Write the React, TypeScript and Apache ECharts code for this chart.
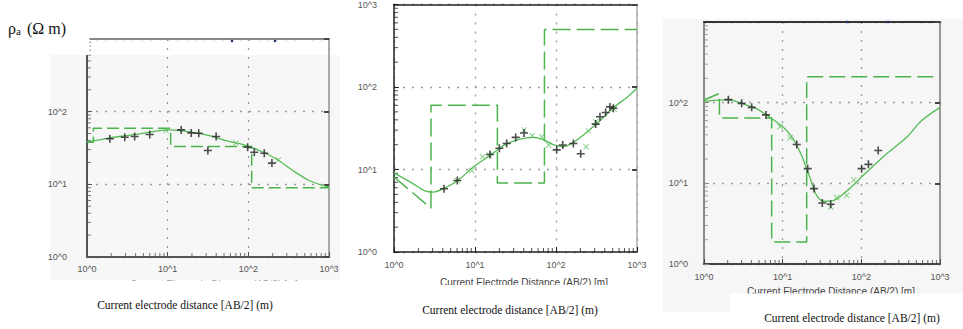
import React, { useEffect, useRef } from "react";
import * as echarts from "echarts";

// ---------- data ----------
const tickLabels = ["10^0", "10^1", "10^2", "10^3"];
const minorVals = [2, 3, 4, 5, 6, 7, 8, 9, 20, 30, 40, 50, 60, 70, 80, 90, 200, 300, 400, 500, 600, 700, 800, 900];

const p1Curve = [[1, 38], [1.92, 43.6], [3.09, 46.9], [4.95, 50.4], [7.96, 55], [10.6, 56.1], [20.5, 52], [33, 46.9], [53, 40], [93.7, 34.2], [137, 29.2], [220, 22.5], [352, 15.6], [566, 11.3], [910, 9.4], [1000, 9.3]];
const p1Model = [[1, 38], [1.2, 38], [1.2, 59], [10.9, 59], [10.9, 33.2], [110, 33.2], [110, 9], [1000, 9]];
const p1Plus = [[1.92, 42.3], [2.94, 44.5], [3.9, 45.5], [6.0, 48.4], [14.7, 56.1], [19.6, 51], [24.3, 50.5], [31.5, 29.2], [39.9, 45.5], [98, 32.4], [118.6, 27.7], [157.7, 26.8], [196, 19.6]];
const p1Cross = [[9.5, 55], [70, 37], [236, 21.8]];

const p2Curve = [[1, 9.1], [1.73, 6.7], [2.41, 5.5], [3.06, 5.33], [4.06, 5.85], [6.2, 7.4], [9.5, 10.7], [15.3, 14.8], [23.5, 20], [36, 23.4], [52.5, 24.5], [69.7, 23], [92.6, 20], [123, 18.9], [164, 21.3], [239, 28.2], [349, 38.9], [510, 56.3], [746, 74.3], [1000, 96.4]];
const p2Model = [[1, 8.1], [2.86, 3.4], [2.86, 60], [18.9, 60], [18.9, 6.85], [72, 6.85], [72, 496], [1000, 496]];
const p2Plus = [[4.14, 5.85], [6.05, 7.37], [15.3, 15.2], [20, 18.1], [24.6, 20.7], [31.8, 24.5], [40.3, 27.7], [102, 17.3], [121, 19.8], [164, 20.7], [202, 15.5], [309, 35.5], [349, 43.5], [410, 49], [464, 57.4], [510, 55.3]];
const p2Cross = [[6.05, 7.4], [9.1, 9.7], [12.4, 14.3], [15, 15], [40.6, 30.1], [51, 25.7], [66.6, 25], [81, 19.8], [235, 18.9], [251, 29.5], [309, 38], [520, 54]];

const p3Curve = [[1, 104], [2.04, 109], [3.16, 96.4], [4.67, 83.6], [6.9, 65.9], [10.2, 49.5], [13.6, 35.6], [17.4, 22.2], [20.2, 15.2], [24.5, 9.0], [27, 7.1], [33, 6.0], [44, 6.1], [53.5, 6.8], [79, 9.45], [106, 12.6], [210, 23.3], [377, 37.3], [585, 60], [1000, 87.5]];
const p3Model = [[1, 108], [1.57, 130], [1.57, 64.7], [7.25, 64.7], [7.25, 1.88], [20.2, 1.88], [20.2, 209], [1000, 209]];
const p3Plus = [[2.04, 109], [3.01, 98], [4.04, 87.5], [6.14, 70.5], [15.1, 30.3], [20.8, 15.2], [25, 8.6], [31.9, 5.7], [40.8, 5.5], [101, 15.2], [123, 17.2], [164, 25.5]];
const p3Cross = [[9.25, 50.6], [12.4, 36.7], [40.8, 5.1], [48.6, 6.66], [65.2, 7.1], [80, 11]];

const axisTitle = "Current Electrode Distance (AB/2) [m]";
const caption = "Current electrode distance [AB/2] (m)";

// ---------- style ----------
const PLUS = "path://M4,0H6V4H10V6H6V10H4V6H0V4H4Z";
const CROSS = "path://M1,0L5,4L9,0L10,1L6,5L10,9L9,10L5,6L1,10L0,9L4,5L0,1Z";
const CURVE_COLOR = "#55bb55";
const MODEL_COLOR = "#4db34d";

const panels = [
  {
    grid: { left: 87, top: 39, width: 242, height: 218 },
    curve: p1Curve, model: p1Model, plus: p1Plus, cross: p1Cross,
    left: "#555", bottom: "#555", top: "#888", right: "#aaa", aw: 2,
    xMargin: 7, yMargin: 20, showYMax: false, dash: [12, 5],
  },
  {
    grid: { left: 394, top: 4, width: 243, height: 248 },
    curve: p2Curve, model: p2Model, plus: p2Plus, cross: p2Cross,
    left: "#222", bottom: "#222", top: "#222", right: "#aaa", aw: 1.5,
    xMargin: 8, yMargin: 17, showYMax: true, dash: [18, 6],
  },
  {
    grid: { left: 704, top: 22, width: 236, height: 242 },
    curve: p3Curve, model: p3Model, plus: p3Plus, cross: p3Cross,
    left: "#8a8a8a", bottom: "#444", top: "#333", right: "#999", aw: 2,
    xMargin: 8, yMargin: 16, showYMax: false, dash: [16, 6],
  },
];

const fmt = (v: number) => tickLabels[Math.round(Math.log10(v))] ?? "";

function buildOption() {
  const grid: any[] = [];
  const xAxis: any[] = [];
  const yAxis: any[] = [];
  const series: any[] = [];
  const split = { show: true, lineStyle: { type: [2, 7], color: "#9a9a9a", width: 1.3 } };
  panels.forEach((p, i) => {
    grid.push({ ...p.grid, containLabel: false, show: false });
    xAxis.push({
      type: "log", logBase: 10, min: 1, max: 1000, gridIndex: i, position: "bottom",
      axisLine: { show: true, onZero: false, lineStyle: { color: p.bottom, width: p.aw } },
      axisTick: { show: true, inside: true, length: 5, lineStyle: { color: p.bottom } },
      axisLabel: { formatter: fmt, color: "#555", fontSize: 9, fontFamily: "Liberation Sans", margin: p.xMargin },
      splitLine: split,
    });
    xAxis.push({
      type: "log", logBase: 10, min: 1, max: 1000, gridIndex: i, position: "top",
      axisLine: { show: true, onZero: false, lineStyle: { color: p.top, width: p.aw } },
      axisTick: { show: false }, axisLabel: { show: false }, splitLine: { show: false },
    });
    yAxis.push({
      type: "log", logBase: 10, min: 1, max: 1000, gridIndex: i, position: "left",
      axisLine: { show: true, onZero: false, lineStyle: { color: p.left, width: p.aw } },
      axisTick: { show: true, inside: true, length: 5, lineStyle: { color: p.left } },
      axisLabel: { formatter: fmt, color: "#555", fontSize: 9, fontFamily: "Liberation Sans", margin: p.yMargin, showMaxLabel: p.showYMax },
      splitLine: split,
    });
    yAxis.push({
      type: "log", logBase: 10, min: 1, max: 1000, gridIndex: i, position: "right",
      axisLine: { show: true, onZero: false, lineStyle: { color: p.right, width: p.aw } },
      axisTick: { show: true, inside: true, length: 5, lineStyle: { color: "#444", width: 2 } },
      axisLabel: { show: false }, splitLine: { show: false },
    });
    const ax = { xAxisIndex: 2 * i, yAxisIndex: 2 * i };
    series.push({ type: "line", ...ax, data: p.curve, smooth: 0.3, symbol: "none", lineStyle: { color: CURVE_COLOR, width: 1.3 }, z: 3, silent: true });
    series.push({ type: "line", ...ax, data: p.model, symbol: "none", lineStyle: { color: MODEL_COLOR, width: 1.5, type: p.dash }, z: 3, silent: true });
    series.push({ type: "scatter", ...ax, data: p.cross, symbol: CROSS, symbolSize: 6, itemStyle: { color: "#5cbf5c" }, z: 4, clip: false });
    series.push({ type: "scatter", ...ax, data: p.plus, symbol: PLUS, symbolSize: 8, itemStyle: { color: "#222" }, z: 5, clip: false });
    series.push({ type: "scatter", ...ax, data: minorVals.map((v) => [1, v]), symbol: "rect", symbolSize: [4, 1], symbolOffset: [2, 0], itemStyle: { color: p.left }, silent: true, clip: false, z: 2 });
    series.push({ type: "scatter", ...ax, data: minorVals.map((v) => [v, 1]), symbol: "rect", symbolSize: [1, 4], symbolOffset: [0, -2], itemStyle: { color: p.bottom }, silent: true, clip: false, z: 2 });
  });

  const serif = "Liberation Serif";
  const sans = "Liberation Sans";
  const txt = (x: number, y: number, text: string, font: string, fill: string, z: number, align = "center") => ({
    type: "text", x, y, z,
    style: { text, font, fill, align, verticalAlign: "middle", textAlign: align, textVerticalAlign: "middle" },
  });
  const rect = (x: number, y: number, w: number, h: number, fill: string, z: number) => ({
    type: "rect", shape: { x, y, width: w, height: h }, style: { fill }, z, silent: true,
  });

  const graphic = [
    rect(50, 55, 290, 225, "#f7f7f7", -10),
    rect(663, 19, 300, 293, "#f6f6f6", -10),
    rect(80, 35, 9.5, 20, "#ffffff", 100),
    // cut axis titles
    txt(214, 284, axisTitle, `10px "${sans}"`, "#444", 50),
    txt(524, 282, axisTitle, `10px "${sans}"`, "#444", 50),
    txt(831, 291, axisTitle, `10px "${sans}"`, "#444", 50),
    rect(40, 280.5, 300, 48.5, "#ffffff", 60),
    rect(388, 285, 255, 44, "#ffffff", 60),
    rect(730, 293.5, 233, 35.5, "#ffffff", 60),
    // captions
    txt(185, 305, caption, `11.5px "${serif}"`, "#111", 70),
    txt(510, 310, caption, `11.5px "${serif}"`, "#111", 70),
    txt(852, 318, caption, `11.5px "${serif}"`, "#111", 70),
    // y title
    txt(8, 28, "ρ", `16px "${serif}"`, "#111", 70, "left"),
    txt(16, 31, "a", `11px "${serif}"`, "#111", 70, "left"),
    txt(27, 28, "(Ω m)", `16px "${serif}"`, "#111", 70, "left"),
    // small scale marks on frames
    { type: "circle", shape: { cx: 232, cy: 41, r: 1.3 }, style: { fill: "#223366" }, z: 80 },
    { type: "circle", shape: { cx: 275, cy: 41, r: 1.3 }, style: { fill: "#223366" }, z: 80 },
    { type: "circle", shape: { cx: 847, cy: 22, r: 1.3 }, style: { fill: "#223366" }, z: 80 },
    { type: "circle", shape: { cx: 888, cy: 22, r: 1.3 }, style: { fill: "#223366" }, z: 80 },
  ];

  return { animation: false, backgroundColor: "#ffffff", grid, xAxis, yAxis, series, graphic };
}

export default function App() {
  const ref = useRef<HTMLDivElement>(null);
  useEffect(() => {
    if (!ref.current) return;
    const chart = echarts.init(ref.current, undefined, { renderer: "svg" });
    chart.setOption(buildOption() as any);
    return () => chart.dispose();
  }, []);
  return <div ref={ref} style={{ position: "absolute", left: 0, top: 0, width: 963, height: 329 }} />;
}
